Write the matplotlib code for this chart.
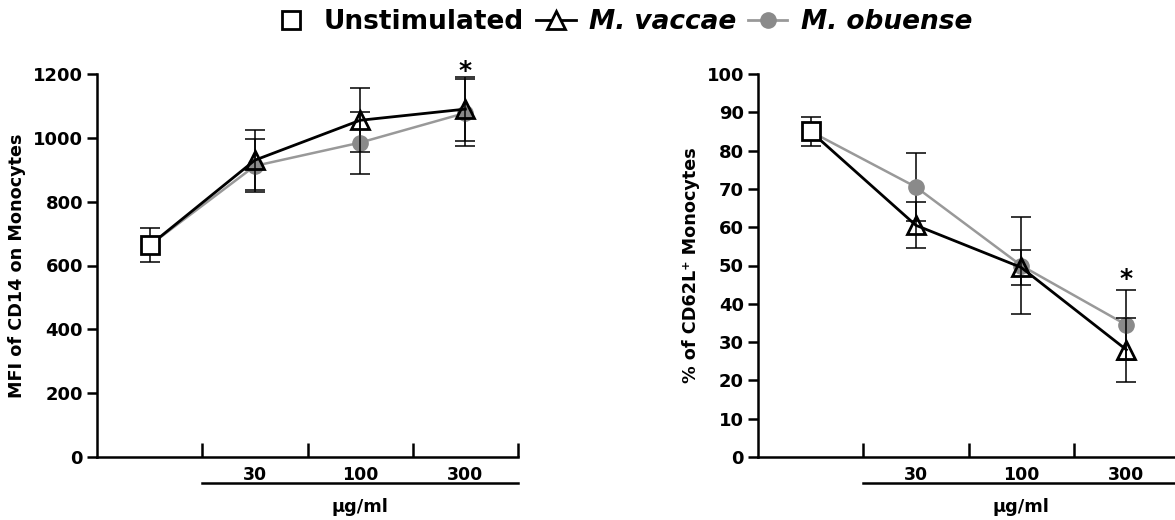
import numpy as np
import matplotlib.pyplot as plt
from matplotlib.lines import Line2D

plt.rcParams['font.family'] = ['DejaVu Sans']
plt.rcParams['font.weight'] = 'bold'

# data: unstimulated point, then 30/100/300 ug/ml
doses = ['30', '100', '300']
x_unstim = 0.5
x_dose = np.array([1.5, 2.5, 3.5])

# CD14 MFI
cd14_unstim, cd14_unstim_err = 663, 53
cd14_vaccae = [930, 1055, 1090]
cd14_vaccae_err = [95, 100, 100]
cd14_obuense = [912, 985, 1078]
cd14_obuense_err = [83, 97, 105]

# % CD62L+
cd62_unstim, cd62_unstim_err = 85, 3.7
cd62_vaccae = [60.5, 49.5, 28]
cd62_vaccae_err = [6, 4.5, 8.3]
cd62_obuense = [70.5, 50, 34.5]
cd62_obuense_err = [9, 12.7, 9.2]

gray = '#8a8a8a'


def draw_panel(ax, unstim, unstim_err, vac, vac_err, obu, obu_err, ymax, ystep, ylabel, star_y):
    xs = np.concatenate([[x_unstim], x_dose])
    # M. obuense (gray)
    ax.plot(xs, [unstim] + list(obu), color='#999999', lw=1.8, zorder=2)
    ax.errorbar(x_dose, obu, yerr=obu_err, fmt='none', ecolor='black', elinewidth=1.1,
                capsize=7, capthick=1.1, zorder=3)
    ax.plot(x_dose, obu, 'o', color=gray, ms=11, zorder=4)
    # M. vaccae (black)
    ax.plot(xs, [unstim] + list(vac), color='black', lw=2, zorder=5)
    ax.errorbar(x_dose, vac, yerr=vac_err, fmt='none', ecolor='black', elinewidth=1.1,
                capsize=7, capthick=1.1, zorder=5)
    ax.plot(x_dose, vac, '^', mfc='none', mec='black', mew=2, ms=13, zorder=6)
    # unstimulated
    ax.errorbar([x_unstim], [unstim], yerr=[unstim_err], fmt='none', ecolor='black',
                elinewidth=1.1, capsize=7, capthick=1.1, zorder=6)
    ax.plot([x_unstim], [unstim], 's', mfc='white', mec='black', mew=2, ms=13, zorder=7)

    ax.set_xlim(0, 4)
    ax.set_ylim(0, ymax)
    ax.set_yticks(np.arange(0, ymax + 1, ystep))
    ax.set_xticks([1, 2, 3, 4])
    ax.set_xticklabels([])
    ax.tick_params(axis='x', direction='in', length=10, width=1.8)
    ax.tick_params(axis='y', direction='out', length=7, width=1.8, labelsize=13, pad=3)
    for lab in ax.get_yticklabels():
        lab.set_fontweight('bold')
    ax.spines['top'].set_visible(False)
    ax.spines['right'].set_visible(False)
    ax.spines['left'].set_linewidth(1.8)
    ax.spines['bottom'].set_linewidth(1.8)
    ax.set_ylabel(ylabel, fontsize=12.7, fontweight='bold', labelpad=5)

    trans = ax.get_xaxis_transform()
    for xd, lab in zip(x_dose, doses):
        ax.text(xd, -0.024, lab, transform=trans, ha='center', va='top',
                fontsize=12.5, fontweight='bold')
    ax.plot([1, 4], [-0.068, -0.068], transform=trans, color='black', lw=1.8, clip_on=False)
    ax.text(2.5, -0.108, '\u03bcg/ml', transform=trans, ha='center', va='top',
            fontsize=12.8, fontweight='bold')
    ax.text(x_dose[-1], star_y, '*', ha='center', va='center', fontsize=18,
            fontweight='bold', clip_on=False)


fig = plt.figure(figsize=(11.75, 5.2), dpi=100)
ax1 = fig.add_axes([97 / 1175, 63 / 520, 421 / 1175, 383 / 520])
ax2 = fig.add_axes([758 / 1175, 63 / 520, 421 / 1175, 383 / 520])

draw_panel(ax1, cd14_unstim, cd14_unstim_err, cd14_vaccae, cd14_vaccae_err,
           cd14_obuense, cd14_obuense_err, 1200, 200, 'MFI of CD14 on Monocytes', 1210)
draw_panel(ax2, cd62_unstim, cd62_unstim_err, cd62_vaccae, cd62_vaccae_err,
           cd62_obuense, cd62_obuense_err, 100, 10, '% of CD62L\u207a Monocytes', 46.5)

handles = [
    Line2D([], [], ls='none', marker='s', mfc='white', mec='black', mew=2, ms=13),
    Line2D([], [], color='black', lw=2, marker='^', mfc='white', mec='black', mew=2, ms=13),
    Line2D([], [], color='#999999', lw=2, marker='o', mfc=gray, mec=gray, ms=11),
]
leg = fig.legend(handles, ['Unstimulated', 'M. vaccae', 'M. obuense'], loc='center',
                 bbox_to_anchor=(0.529, 0.958), ncol=3, frameon=False, fontsize=19,
                 handlelength=1.5, columnspacing=0.45, handletextpad=0.5)
for i, t in enumerate(leg.get_texts()):
    t.set_fontweight('bold')
    if i > 0:
        t.set_fontstyle('italic')

fig.savefig('out.png', dpi=100)
